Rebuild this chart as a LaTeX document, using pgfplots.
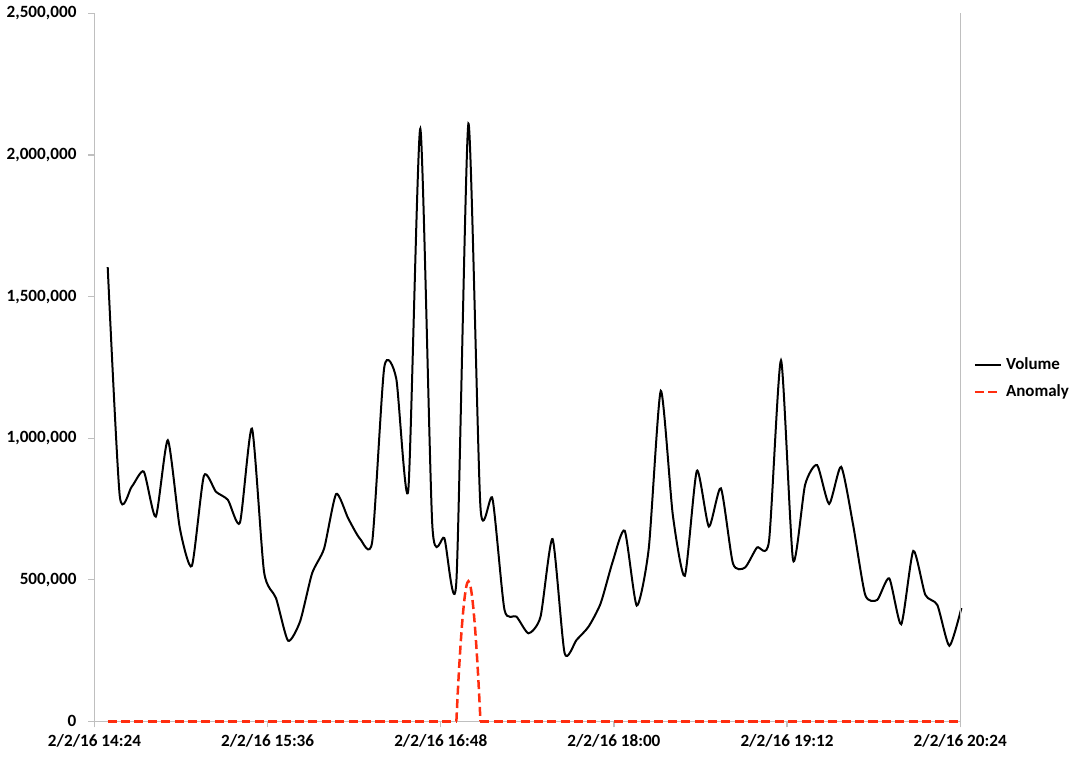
\documentclass[border=0pt]{standalone}
\usepackage{fontspec}
\setmainfont{Carlito}
\usepackage{pgfplots}
\pgfplotsset{compat=1.18}
\usepackage{pgfplotstable}
\definecolor{axisgray}{RGB}{191,191,191}
\definecolor{anomred}{RGB}{255,45,15}

% minutes after 14:24, volume
\pgfplotstableread{
x y
5.5 1604000
10.5 797000
15.5 829000
20.5 882000
25.5 723000
30.5 993000
35.5 682000
40.5 549000
45.5 867000
50.5 811000
55.5 782000
60.5 702000
65.5 1034000
70.5 529000
75.5 435000
80.5 285000
85.5 353000
90.5 523000
95.5 611000
100.5 803000
105.5 717000
110.5 644000
115.5 635000
120.5 1250000
125.5 1210000
130.5 817000
135.5 2093000
140.5 691000
145.5 647000
150.5 495000
155.5 2111000
160.5 758000
165.5 787000
170.5 394000
175.5 370000
180.5 311000
185.5 370000
190.5 644000
195.5 241000
200.5 288000
205.5 335000
210.5 417000
215.5 564000
220.5 673000
225.5 409000
230.5 611000
235.5 1167000
240.5 729000
245.5 514000
250.5 885000
255.5 688000
260.5 823000
265.5 558000
270.5 543000
275.5 614000
280.5 637000
285.5 1275000
290.5 570000
295.5 835000
300.5 905000
305.5 768000
310.5 899000
315.5 693000
320.5 447000
325.5 429000
330.5 505000
335.5 343000
340.5 602000
345.5 447000
350.5 411000
355.5 267000
360.5 400000
}\volume

\pgfplotstableread{
x y
5.5 0
10.5 0
15.5 0
20.5 0
25.5 0
30.5 0
35.5 0
40.5 0
45.5 0
50.5 0
55.5 0
60.5 0
65.5 0
70.5 0
75.5 0
80.5 0
85.5 0
90.5 0
95.5 0
100.5 0
105.5 0
110.5 0
115.5 0
120.5 0
125.5 0
130.5 0
135.5 0
140.5 0
145.5 0
150.5 0
155.5 495000
160.5 0
165.5 0
170.5 0
175.5 0
180.5 0
185.5 0
190.5 0
195.5 0
200.5 0
205.5 0
210.5 0
215.5 0
220.5 0
225.5 0
230.5 0
235.5 0
240.5 0
245.5 0
250.5 0
255.5 0
260.5 0
265.5 0
270.5 0
275.5 0
280.5 0
285.5 0
290.5 0
295.5 0
300.5 0
305.5 0
310.5 0
315.5 0
320.5 0
325.5 0
330.5 0
335.5 0
340.5 0
345.5 0
350.5 0
355.5 0
360.5 0
}\anomaly

\begin{document}
\begin{tikzpicture}
\begin{axis}[
  scale only axis,
  width=433.5pt, height=354.5pt,
  xmin=0, xmax=360,
  ymin=0, ymax=2500000,
  axis x line*=bottom, axis y line*=left,
  axis line style={axisgray, line width=0.6pt},
  tick style={axisgray, line width=0.6pt},
  tick align=outside, major tick length=3pt,
  xtick={0,72,144,216,288,360},
  xticklabels={2/2/16 14:24,2/2/16 15:36,2/2/16 16:48,2/2/16 18:00,2/2/16 19:12,2/2/16 20:24},
  ytick={0,500000,1000000,1500000,2000000,2500000},
  yticklabels={0,{500,000},{1,000,000},{1,500,000},{2,000,000},{2,500,000}},
  scaled y ticks=false,
  tick label style={font=\fontsize{8.6}{10}\selectfont\bfseries, black},
  yticklabel style={xshift=-2.5pt},
  clip=false,
  legend style={draw=none, at={(1.015,0.484)}, anchor=west,
    font=\fontsize{8.5}{10}\selectfont\bfseries, row sep=2pt,
    inner sep=0pt},
  legend cell align=left,
  legend image code/.code={\draw[#1] (0pt,0pt) -- (13pt,0pt);},
  anom/.style={anomred, line width=1.25pt, dash pattern=on 4.5pt off 2.2pt},
]
\addplot[black, line width=1pt, smooth, tension=0.38] table[x=x,y=y] {\volume};
\addlegendentry{Volume}
\addplot[anom, restrict x to domain=0:150.6] table[x=x,y=y] {\anomaly};
\addlegendentry{Anomaly}
\addplot[anom, smooth, tension=0.9, forget plot, restrict x to domain=150.4:160.6] table[x=x,y=y] {\anomaly};
\addplot[anom, forget plot, restrict x to domain=160.4:361] table[x=x,y=y] {\anomaly};
\draw[axisgray, line width=0.6pt] (rel axis cs:1,0) -- (rel axis cs:1,1);
\end{axis}
\path ([shift={(-46.5pt,-18pt)}]current axis.south west) rectangle ([shift={(57.5pt,5.5pt)}]current axis.north east);
\end{tikzpicture}
\end{document}
